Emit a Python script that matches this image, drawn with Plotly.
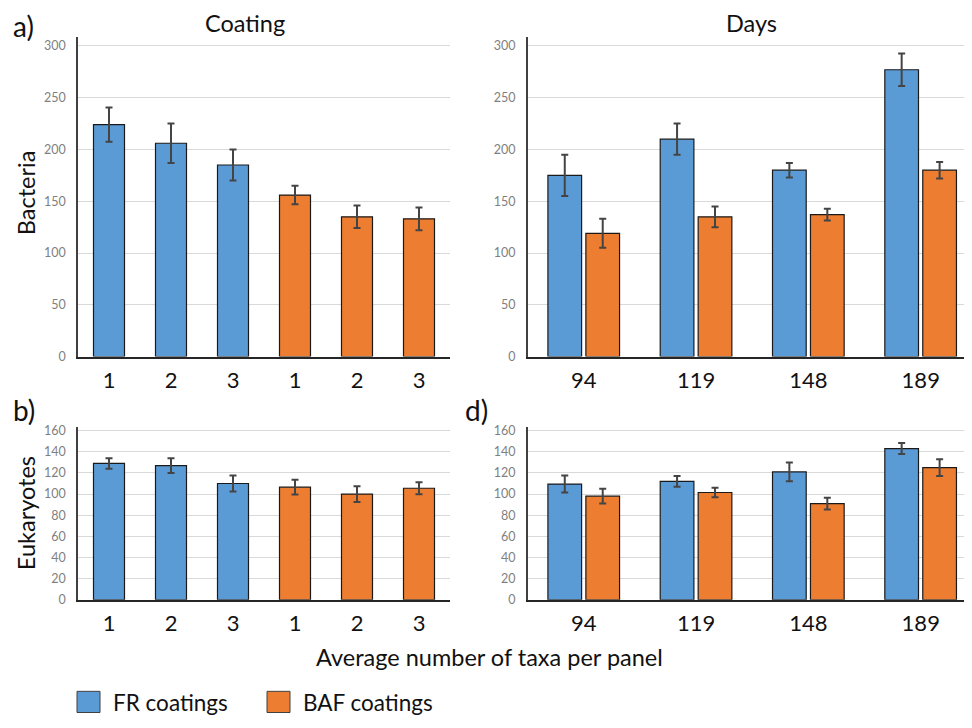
import plotly.graph_objects as go

# ---------------- data ----------------
coat_labels = ["1", "2", "3", "1", "2", "3"]
day_labels = ["94", "119", "148", "189"]

bact_coat_fr = [224, 206, 185]
bact_coat_fr_err = [16.5, 19, 15]
bact_coat_baf = [156, 135, 133]
bact_coat_baf_err = [9, 10.8, 11]

bact_day_fr = [175, 210, 180, 277]
bact_day_fr_err = [20, 15, 7, 15.7]
bact_day_baf = [119, 135, 137, 180]
bact_day_baf_err = [14, 10, 5.7, 8]

euk_coat_fr = [129, 127, 110]
euk_coat_fr_err = [5, 7, 7.5]
euk_coat_baf = [106.5, 100, 105.5]
euk_coat_baf_err = [7, 7.5, 5.7]

euk_day_fr = [109.5, 112, 121, 143]
euk_day_fr_err = [8, 5, 8.8, 5.2]
euk_day_baf = [98, 101.5, 91, 125]
euk_day_baf_err = [7, 4.6, 5.5, 8]

BLUE = "#5B9BD5"
ORANGE = "#ED7D31"
FONT = "Lato"

fig = go.Figure()


def bar(x, y, err, color, xa, ya, width, offset):
    fig.add_trace(go.Bar(
        x=x, y=y, xaxis=xa, yaxis=ya,
        width=width, offset=offset,
        marker=dict(color=color, line=dict(color="#1a1a1a", width=1.2)),
        error_y=dict(type="data", array=err, color="#444444", thickness=2, width=3.5),
        showlegend=False,
    ))


coat_pos_fr = [0, 1, 2]
coat_pos_baf = [3, 4, 5]
day_pos = [0, 1, 2, 3]

# a) bacteria by coating
bar(coat_pos_fr, bact_coat_fr, bact_coat_fr_err, BLUE, "x", "y", 0.5, -0.25)
bar(coat_pos_baf, bact_coat_baf, bact_coat_baf_err, ORANGE, "x", "y", 0.5, -0.25)
# bacteria by days
bar(day_pos, bact_day_fr, bact_day_fr_err, BLUE, "x2", "y2", 0.30, -0.32)
bar(day_pos, bact_day_baf, bact_day_baf_err, ORANGE, "x2", "y2", 0.30, 0.018)
# b) eukaryotes by coating
bar(coat_pos_fr, euk_coat_fr, euk_coat_fr_err, BLUE, "x3", "y3", 0.5, -0.25)
bar(coat_pos_baf, euk_coat_baf, euk_coat_baf_err, ORANGE, "x3", "y3", 0.5, -0.25)
# d) eukaryotes by days
bar(day_pos, euk_day_fr, euk_day_fr_err, BLUE, "x4", "y4", 0.30, -0.32)
bar(day_pos, euk_day_baf, euk_day_baf_err, ORANGE, "x4", "y4", 0.30, 0.018)

# page body has an 8px margin on every side; size the figure so the page fits exactly
OFF = 8
W, H = 972 - 2 * OFF, 728 - 2 * OFF


def px(x):
    return (x - OFF) / W


def py(y):
    return 1 - (y - OFF) / H


top_dom = [py(358), py(33)]
bot_dom = [py(605), py(430)]
left_dom = [px(78), px(450)]
right_dom = [px(527.7), 1.0]
right_max = -0.5 + (W + OFF - 527.7) / 112.3

xcommon = dict(showline=True, linecolor="#262626", linewidth=2, showgrid=False,
               zeroline=False, ticks="", tickfont=dict(family=FONT, size=22, color="#111111"),
               ticklabelstandoff=3)
ycommon = dict(showline=True, linecolor="#404040", linewidth=1.5, showgrid=True,
               gridcolor="#D9D9D9", gridwidth=1, zeroline=False, ticks="",
               tickfont=dict(family=FONT, size=12.5, color="#7F7F7F"), ticklabelstandoff=8)

fig.update_layout(
    width=W, height=H,
    margin=dict(l=0, r=0, t=0, b=0),
    paper_bgcolor="white", plot_bgcolor="white",
    showlegend=False,
    font=dict(family=FONT),
    xaxis=dict(domain=left_dom, anchor="y", range=[-0.5, 5.5], tickmode="array",
               tickvals=[0, 1, 2, 3, 4, 5], ticktext=coat_labels, **xcommon),
    yaxis=dict(domain=top_dom, anchor="x", range=[0, 309], dtick=50, **ycommon),
    xaxis2=dict(domain=right_dom, anchor="y2", range=[-0.5, right_max], tickmode="array",
                tickvals=day_pos, ticktext=day_labels, **xcommon),
    yaxis2=dict(domain=top_dom, anchor="x2", range=[0, 309], dtick=50, **ycommon),
    xaxis3=dict(domain=left_dom, anchor="y3", range=[-0.5, 5.5], tickmode="array",
                tickvals=[0, 1, 2, 3, 4, 5], ticktext=coat_labels, **xcommon),
    yaxis3=dict(domain=bot_dom, anchor="x3", range=[0, 163], dtick=20, **ycommon),
    xaxis4=dict(domain=right_dom, anchor="y4", range=[-0.5, right_max], tickmode="array",
                tickvals=day_pos, ticktext=day_labels, **xcommon),
    yaxis4=dict(domain=bot_dom, anchor="x4", range=[0, 163], dtick=20, **ycommon),
)


def text(x, y, s, size, color="#111111", angle=0, xanchor="center"):
    fig.add_annotation(x=px(x), y=py(y), xref="paper", yref="paper", text=s,
                       showarrow=False, xanchor=xanchor, yanchor="middle",
                       textangle=angle, font=dict(family=FONT, size=size, color=color))


text(11, 22, "a)", 28, xanchor="left")
text(245, 19, "Coating", 23.5)
text(751, 19, "Days", 23.5)
text(26, 192, "Bacteria", 23.5, angle=-90)
text(11, 412, "b)", 28, xanchor="left")
text(463, 412, "d)", 28, xanchor="left")
text(26, 517, "Eukaryotes", 23.5, angle=-90)
text(490, 663, "Average number of taxa per panel", 23.5)

# legend
for x0, color, label in [(77, BLUE, "FR coatings"), (267, ORANGE, "BAF coatings")]:
    fig.add_shape(type="rect", xref="paper", yref="paper",
                  x0=px(x0), x1=px(x0 + 23), y0=py(719.5), y1=py(698),
                  fillcolor=color, line=dict(color="#404040", width=1))
    text(x0 + 34, 709.5, label, 22.5, xanchor="left")

fig.write_html("out.html")
